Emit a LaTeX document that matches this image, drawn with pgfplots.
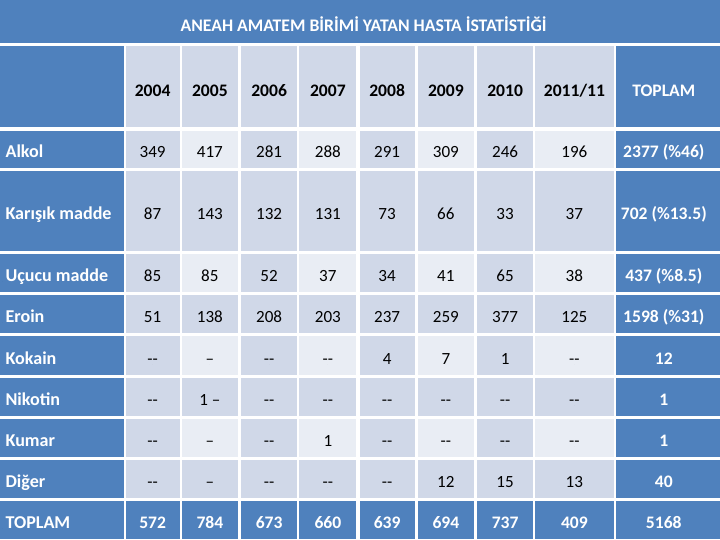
\documentclass[border=0pt]{standalone}
\usepackage{fontspec}
\setmainfont{Carlito}[Ligatures=TeXOff]
\usepackage{pgfplots}
\usepackage{pgfplotstable}
\pgfplotsset{compat=1.18}
\definecolor{tblue}{HTML}{4F81BD}
\definecolor{tmid}{HTML}{D0D8E8}
\definecolor{tlight}{HTML}{E9EDF4}

% cell text: x = column centre, y = baseline (pixels from top)
\pgfplotstableread[col sep=comma,row sep=\\]{
x,y,t\\
153,97,2004\\ 210,97,2005\\ 269,97,2006\\ 327.5,97,2007\\
386.5,97,2008\\ 445,97,2009\\ 504,97,2010\\ 573,97,2011/11\\
}\header

\pgfplotstableread[col sep=comma,row sep=\\]{
x,y,t\\
3,158,Alkol\\ 3,219.5,Karışık madde\\ 3,281.5,Uçucu madde\\ 3,322.5,Eroin\\
3,363.5,Kokain\\ 3,404.5,Nikotin\\ 3,445.5,Kumar\\ 3,486.5,Diğer\\ 3,527.5,TOPLAM\\
}\rowlabels

\pgfplotstableread[col sep=comma,row sep=\\]{
x,y,t\\
153,158,349\\ 210,158,417\\ 269,158,281\\ 327.5,158,288\\ 386.5,158,291\\ 445,158,309\\ 504,158,246\\ 573,158,196\\
153,219.5,87\\ 210,219.5,143\\ 269,219.5,132\\ 327.5,219.5,131\\ 386.5,219.5,73\\ 445,219.5,66\\ 504,219.5,33\\ 573,219.5,37\\
153,281.5,85\\ 210,281.5,85\\ 269,281.5,52\\ 327.5,281.5,37\\ 386.5,281.5,34\\ 445,281.5,41\\ 504,281.5,65\\ 573,281.5,38\\
153,322.5,51\\ 210,322.5,138\\ 269,322.5,208\\ 327.5,322.5,203\\ 386.5,322.5,237\\ 445,322.5,259\\ 504,322.5,377\\ 573,322.5,125\\
153,363.5,--\\ 210,363.5,–\\ 269,363.5,--\\ 327.5,363.5,--\\ 386.5,363.5,4\\ 445,363.5,7\\ 504,363.5,1\\ 573,363.5,--\\
153,404.5,--\\ 210,404.5,1 –\\ 269,404.5,--\\ 327.5,404.5,--\\ 386.5,404.5,--\\ 445,404.5,--\\ 504,404.5,--\\ 573,404.5,--\\
153,445.5,--\\ 210,445.5,–\\ 269,445.5,--\\ 327.5,445.5,1\\ 386.5,445.5,--\\ 445,445.5,--\\ 504,445.5,--\\ 573,445.5,--\\
153,486.5,--\\ 210,486.5,–\\ 269,486.5,--\\ 327.5,486.5,--\\ 386.5,486.5,--\\ 445,486.5,12\\ 504,486.5,15\\ 573,486.5,13\\
}\body

\pgfplotstableread[col sep=comma,row sep=\\]{
x,y,t\\
662,97,TOPLAM\\
662,158,2377 (\%46)\\ 662,219.5,702 (\%13.5)\\ 662,281.5,437 (\%8.5)\\ 662,322.5,1598 (\%31)\\
662,363.5,12\\ 662,404.5,1\\ 662,445.5,1\\ 662,486.5,40\\
153,527.5,572\\ 210,527.5,784\\ 269,527.5,673\\ 327.5,527.5,660\\ 386.5,527.5,639\\
445,527.5,694\\ 504,527.5,737\\ 573,527.5,409\\ 662,527.5,5168\\
}\totals

\begin{document}
\begin{tikzpicture}
\begin{axis}[
    x=1pt, y=1pt, y dir=reverse,
    xmin=0, xmax=720, ymin=0, ymax=540,
    hide axis, clip=false,
    only marks, mark=*, mark size=0pt,
    nodes near coords, point meta=explicit symbolic,
  ]
  % cell backgrounds
  \fill[tblue] (axis cs:1,1) rectangle (axis cs:718,44);
  \foreach \r/\ya/\yb in {0/47/127,1/131/168,2/171/251,3/254/292,4/295/333,
                          5/336/374,6/377/415,7/418/456,8/459/497,9/500/538}{
    \foreach \c/\xa/\xb in {0/1/124,1/126/180,2/182/238,3/241/297,4/299/356,
                            5/359/414,6/417/473,7/476/532,8/534/612,9/614/718}{
      \def\cellcol{tmid}
      \ifnum\r>0\relax\ifodd\r\relax\ifodd\c\relax\else\def\cellcol{tlight}\fi\fi\fi
      \ifnum\c=0\relax\def\cellcol{tblue}\fi
      \ifnum\c=9\relax\def\cellcol{tblue}\fi
      \ifnum\r=9\relax\def\cellcol{tblue}\fi
      \edef\temp{\noexpand\fill[\cellcol] (axis cs:\xa,\ya) rectangle (axis cs:\xb,\yb);}
      \temp
    }
  }
  \node[anchor=base, text=white, font=\fontsize{17.6}{20}\selectfont\bfseries]
    at (axis cs:363,32.5) {ANEAH AMATEM BİRİMİ YATAN HASTA İSTATİSTİĞİ};

  \addplot[every node near coord/.append style={anchor=base, text=black,
      font=\fontsize{17.5}{20}\selectfont\bfseries}]
    table[x=x, y=y, meta=t] {\header};
  \addplot[every node near coord/.append style={anchor=base west, text=white,
      font=\fontsize{18}{20}\selectfont\bfseries}]
    table[x=x, y=y, meta=t] {\rowlabels};
  \addplot[every node near coord/.append style={anchor=base, text=black,
      font=\fontsize{17}{20}\selectfont}]
    table[x=x, y=y, meta=t] {\body};
  \addplot[every node near coord/.append style={anchor=base, text=white,
      font=\fontsize{17.5}{20}\selectfont\bfseries}]
    table[x=x, y=y, meta=t] {\totals};
\end{axis}
\end{tikzpicture}
\end{document}
